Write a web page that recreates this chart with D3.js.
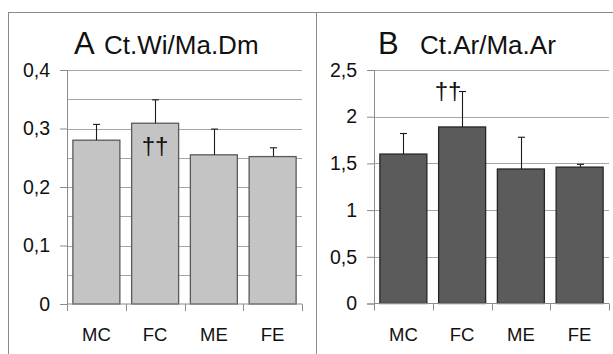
<!DOCTYPE html>
<html>
<head>
<meta charset="utf-8">
<script src="https://cdn.jsdelivr.net/npm/d3@7"></script>
<style>
  html, body { margin: 0; padding: 0; background: #fff; }
  svg { display: block; }
  text { font-family: "Liberation Sans", Arial, sans-serif; fill: #111; }
</style>
</head>
<body>
<svg id="chart" width="613" height="354"></svg>
<script>
// Groups shown on both panels
const groups = ["MC", "FC", "ME", "FE"];

// Panel A: cortical width / marrow diameter
const wiMeans = [0.280, 0.309, 0.255, 0.252];
const wiSD    = [0.027, 0.040, 0.044, 0.015];
const wiTicks = [0, 0.1, 0.2, 0.3, 0.4];
const wiGrid  = [0.05, 0.1, 0.15, 0.2, 0.25, 0.3, 0.35, 0.4];
const wiMarks = ["", "††", "", ""];

// Panel B: cortical area / marrow area
const arMeans = [1.60, 1.89, 1.44, 1.46];
const arSD    = [0.22, 0.38, 0.34, 0.03];
const arTicks = [0, 0.5, 1, 1.5, 2, 2.5];
const arGrid  = [0.5, 1, 1.5, 2, 2.5];
const arMarks = ["", "††", "", ""];

const svg = d3.select("#chart");
const fmt = v => String(v).replace(".", ",");

// outer frame and panel divider
const frame = svg.append("g").attr("stroke", "#8a8a8a").attr("stroke-width", 1);
frame.append("line").attr("x1", 8).attr("x2", 613).attr("y1", 12.5).attr("y2", 12.5);
frame.append("line").attr("x1", 8.5).attr("x2", 8.5).attr("y1", 12).attr("y2", 354);
frame.append("line").attr("x1", 316.5).attr("x2", 316.5).attr("y1", 12).attr("y2", 354);

function panel(opt) {
  const g = svg.append("g");
  const x = d3.scaleBand().domain(groups).range(opt.xr).paddingInner(0.2).paddingOuter(0.1);
  const y = d3.scaleLinear().domain(opt.domain).range(opt.yr);

  // horizontal gridlines
  g.append("g").selectAll("line").data(opt.grid).join("line")
    .attr("x1", opt.xr[0]).attr("x2", opt.xr[1])
    .attr("y1", d => Math.round(y(d)) + 0.5).attr("y2", d => Math.round(y(d)) + 0.5)
    .attr("stroke", "#a6a6a6").attr("stroke-width", 1);

  // bars
  g.append("g").selectAll("rect").data(opt.means).join("rect")
    .attr("x", (d, i) => x(groups[i]))
    .attr("width", x.bandwidth())
    .attr("y", d => y(d))
    .attr("height", d => y(0) - y(d))
    .attr("fill", opt.fill).attr("stroke", opt.stroke).attr("stroke-width", 1.3);

  // upper error bars
  const eb = g.append("g").attr("stroke", "#1a1a1a").attr("stroke-width", 1.1);
  opt.means.forEach((m, i) => {
    const cx = Math.round(x(groups[i]) + x.bandwidth() / 2) + 0.5;
    eb.append("line").attr("x1", cx).attr("x2", cx).attr("y1", y(m)).attr("y2", y(m + opt.sd[i]));
    eb.append("line").attr("x1", cx - 3.5).attr("x2", cx + 3.5)
      .attr("y1", y(m + opt.sd[i])).attr("y2", y(m + opt.sd[i]));
  });

  // y axis
  const ya = g.append("g").attr("transform", `translate(${opt.xr[0]},0)`)
    .call(d3.axisLeft(y).tickValues(opt.ticks).tickFormat(fmt).tickSize(7).tickPadding(10));
  ya.select(".domain").attr("stroke", "#8c8c8c");
  ya.selectAll(".tick line").attr("stroke", "#8c8c8c");
  ya.selectAll("text").attr("font-size", 19.5).attr("font-family", "Liberation Sans, Arial, sans-serif").attr("fill", "#111");

  // x axis with ticks at band edges
  const xa = g.append("g").attr("transform", `translate(0,${y(0)})`);
  xa.append("line").attr("x1", opt.xr[0]).attr("x2", opt.xr[1]).attr("stroke", "#8c8c8c");
  const edges = groups.map(c => x(c) - x.step() * x.paddingInner() / 2).concat([opt.xr[1]]);
  edges[0] = opt.xr[0];
  xa.selectAll("line.edge").data(edges).join("line").attr("class", "edge")
    .attr("x1", d => Math.round(d) + 0.5).attr("x2", d => Math.round(d) + 0.5)
    .attr("y1", 0).attr("y2", 7).attr("stroke", "#8c8c8c");
  xa.selectAll("text").data(groups).join("text")
    .attr("x", d => x(d) + x.bandwidth() / 2).attr("y", 37)
    .attr("text-anchor", "middle").attr("font-size", 18.5).text(d => d);

  // significance daggers
  g.append("g").selectAll("text").data(opt.marks).join("text")
    .attr("x", (d, i) => x(groups[i]) + x.bandwidth() / 2 + opt.markDx)
    .attr("y", (d, i) => opt.markAbove ? y(opt.means[i] + opt.sd[i]) + opt.markDy : y(opt.means[i]) + opt.markDy)
    .attr("text-anchor", "middle").attr("font-size", 24).text(d => d);

  // panel title
  g.append("text").attr("x", opt.titleX).attr("y", opt.titleY).attr("font-size", 31).text(opt.letter);
  g.append("text").attr("x", opt.titleX + opt.labelDx).attr("y", opt.titleY).attr("font-size", 26).text(opt.title);
}

panel({
  xr: [67, 302], yr: [304, 70], domain: [0, 0.4],
  means: wiMeans, sd: wiSD, ticks: wiTicks, grid: wiGrid, marks: wiMarks,
  fill: "#c4c4c4", stroke: "#5a5a5a",
  markDx: 0, markDy: 31, markAbove: false,
  letter: "A", title: "Ct.Wi/Ma.Dm", titleX: 74, titleY: 54, labelDx: 30
});

panel({
  xr: [374, 609], yr: [303.5, 70], domain: [0, 2.5],
  means: arMeans, sd: arSD, ticks: arTicks, grid: arGrid, marks: arMarks,
  fill: "#5b5b5b", stroke: "#262626",
  markDx: -14, markDy: 8, markAbove: true,
  letter: "B", title: "Ct.Ar/Ma.Ar", titleX: 378, titleY: 54, labelDx: 42
});
</script>
</body>
</html>
